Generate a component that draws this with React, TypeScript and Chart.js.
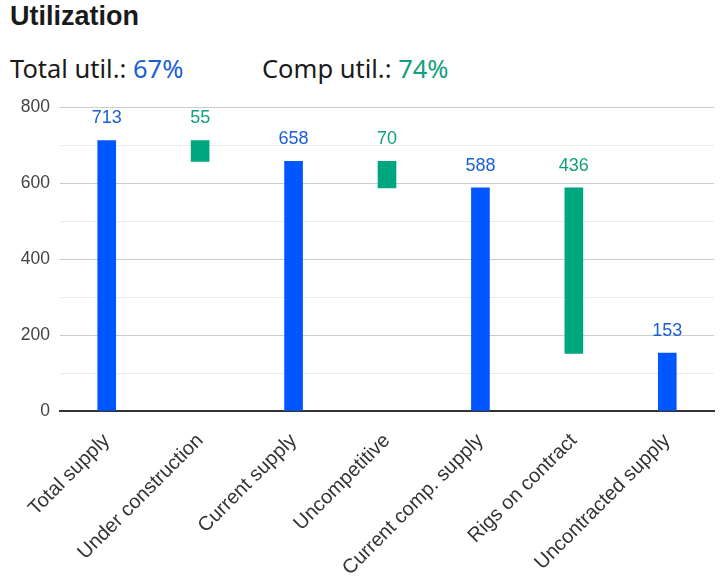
import React, { useEffect, useRef } from "react";
import { Chart, registerables } from "chart.js";

Chart.register(...registerables);

const categories = [
  "Total supply",
  "Under construction",
  "Current supply",
  "Uncompetitive",
  "Current comp. supply",
  "Rigs on contract",
  "Uncontracted supply",
];
const barStart = [0, 658, 0, 588, 0, 152, 0];
const barEnd = [713, 713, 658, 658, 588, 588, 153];
const shownValues = [713, 55, 658, 70, 588, 436, 153];
const isTotal = [true, false, true, false, true, false, true];
const yTicks = [0, 200, 400, 600, 800];

const BLUE = "#0057ff";
const GREEN = "#00a67e";
const BLUE_TEXT = "#1a5fd4";
const GREEN_TEXT = "#12a07c";
const FONT = "'Liberation Sans', Arial, sans-serif";

const valueLabels = {
  id: "valueLabels",
  afterDatasetsDraw(chart: any) {
    const ctx = chart.ctx;
    const meta = chart.getDatasetMeta(0);
    ctx.save();
    ctx.font = `18px ${FONT}`;
    ctx.textAlign = "center";
    ctx.textBaseline = "middle";
    meta.data.forEach((el: any, i: number) => {
      const top = Math.min(el.y, el.base);
      ctx.fillStyle = isTotal[i] ? BLUE_TEXT : GREEN_TEXT;
      ctx.fillText(String(shownValues[i]), el.x, top - 22);
    });
    ctx.restore();
  },
};

export default function App() {
  const ref = useRef<HTMLCanvasElement>(null);
  useEffect(() => {
    if (!ref.current) return;
    const chart = new Chart(ref.current, {
      type: "bar",
      data: {
        labels: categories,
        datasets: [
          {
            data: categories.map((_, i) => [barStart[i], barEnd[i]]) as any,
            backgroundColor: isTotal.map((t) => (t ? BLUE : GREEN)),
            barThickness: 18,
            borderWidth: 0,
          },
        ],
      },
      options: {
        animation: false,
        responsive: false,
        devicePixelRatio: 1,
        layout: { padding: { top: 3, right: 10, left: 0, bottom: 0 } },
        plugins: {
          legend: { display: false },
          tooltip: { enabled: false },
        },
        scales: {
          x: {
            grid: { display: false },
            border: { display: true, color: "#333", width: 2 },
            afterFit(scale: any) {
              scale.height = 169;
            },
            ticks: {
              minRotation: 45,
              maxRotation: 45,
              padding: 10,
              color: "#333",
              font: { family: FONT, size: 20 },
            },
          },
          y: {
            min: 0,
            max: 800,
            border: { display: false },
            afterFit(scale: any) {
              scale.width = 60;
            },
            grid: {
              drawTicks: false,
              color: (c: any) =>
                c.tick && yTicks.includes(c.tick.value) ? "#cccccc" : "#ebebeb",
            },
            ticks: {
              stepSize: 100,
              padding: 10,
              color: "#444",
              font: { family: FONT, size: 17.5 },
              callback: (v: any) => (yTicks.includes(Number(v)) ? String(v) : ""),
            },
          },
        },
      },
      plugins: [valueLabels],
    });
    return () => chart.destroy();
  }, []);

  const sub: React.CSSProperties = {
    position: "absolute",
    top: 51,
    fontSize: 25.5,
    color: "#1a1a1a",
    fontFamily: "'Noto Sans', sans-serif",
    whiteSpace: "nowrap",
  };

  return (
    <div
      style={{
        position: "fixed",
        left: 0,
        top: 0,
        width: 724,
        height: 580,
        background: "#fff",
        fontFamily: FONT,
      }}
    >
      <div
        style={{
          position: "absolute",
          left: 10,
          top: 1,
          fontSize: 27,
          fontWeight: "bold",
          color: "#1a1a1a",
        }}
      >
        Utilization
      </div>
      <div style={{ ...sub, left: 10 }}>
        Total util.: <span style={{ color: BLUE_TEXT }}>67%</span>
      </div>
      <div style={{ ...sub, left: 262 }}>
        Comp util.: <span style={{ color: GREEN_TEXT }}>74%</span>
      </div>
      <canvas
        ref={ref}
        width={724}
        height={493}
        style={{ position: "absolute", left: 0, top: 87, width: 724, height: 493 }}
      />
    </div>
  );
}
